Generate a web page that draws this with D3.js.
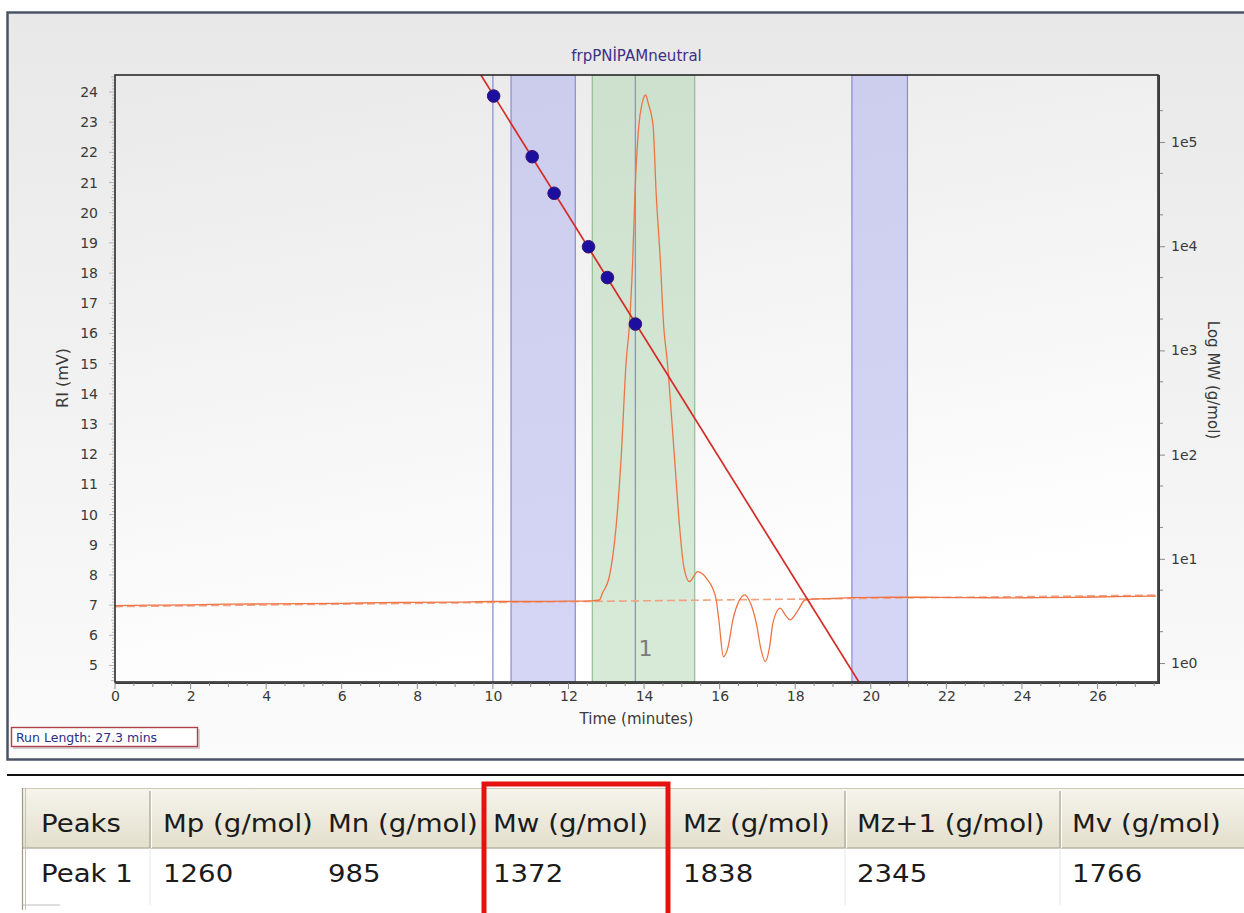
<!DOCTYPE html>
<html>
<head>
<meta charset="utf-8">
<script src="https://cdn.jsdelivr.net/npm/d3@7"></script>
<style>
  html, body { margin: 0; padding: 0; background: #ffffff; }
  svg { display: block; font-family: "DejaVu Sans", Verdana, sans-serif; }
</style>
</head>
<body>
<svg id="chart" width="1244" height="913"></svg>
<script>
// RI detector trace: retention time (min) and signal (mV)
const traceTime = [0, 1, 2, 3, 4, 5, 6, 7, 8, 9, 10, 11, 12, 12.6, 12.82, 12.9, 13.08, 13.26, 13.39,
  13.53, 13.61, 13.7, 13.76, 13.86, 13.95, 14.04, 14.11, 14.24, 14.32, 14.43, 14.52, 14.61, 14.81,
  14.94, 15.05, 15.2, 15.42, 15.56, 15.68, 15.8, 15.91, 15.98, 16.1, 16.22, 16.35, 16.5, 16.66,
  16.82, 16.97, 17.1, 17.21, 17.32, 17.41, 17.6, 17.75, 17.86, 18.06, 18.26, 18.5, 19, 19.5, 20.5,
  21.5, 22.5, 23.5, 24.5, 25.5, 26.5, 27.55];
const traceMV = [6.98, 7.0, 7.01, 7.03, 7.04, 7.05, 7.06, 7.08, 7.09, 7.1, 7.12, 7.12, 7.13, 7.14, 7.17,
  7.4, 7.94, 9.6, 11.81, 15.13, 16.23, 18.44, 20.65, 22.86, 23.63, 23.9, 23.63, 22.86, 20.65, 18.44,
  16.23, 15.13, 11.81, 9.6, 8.28, 7.78, 8.11, 8.02, 7.84, 7.6, 7.17, 6.5, 5.29, 5.6, 6.51, 7.1, 7.34,
  7.05, 6.4, 5.5, 5.13, 5.6, 6.41, 6.9, 6.65, 6.51, 6.8, 7.17, 7.2, 7.22, 7.25, 7.26, 7.26, 7.25,
  7.24, 7.25, 7.26, 7.28, 7.3];

// Baseline drawn under the trace
const baselineTime = [0, 27.55];
const baselineMV = [6.95, 7.33];

// Calibration standards: retention time (min) and molecular weight (g/mol)
const calTime = [10.02, 11.04, 11.62, 12.53, 13.03, 13.77];
const calMW = [276000, 72300, 32200, 9880, 5000, 1790];

// Integration regions and limits (min)
const limitBands = [[10.48, 12.18], [19.5, 20.97]];
const peakBand = [12.63, 15.34];
const limitLines = [10.0, 13.77];
const peakName = "1";
const peakTime = 14.04;

// Axis settings
const timeDomain = [0, 27.6];
const riDomain = [4.453, 24.563];
const mwDomain = [Math.pow(10, -0.182), Math.pow(10, 5.643)];
const timeTicks = [0, 2, 4, 6, 8, 10, 12, 14, 16, 18, 20, 22, 24, 26];
const riTicks = [5, 6, 7, 8, 9, 10, 11, 12, 13, 14, 15, 16, 17, 18, 19, 20, 21, 22, 23, 24];
const mwTicks = [1, 10, 100, 1000, 10000, 100000];
const mwTickLabels = ["1e0", "1e1", "1e2", "1e3", "1e4", "1e5"];

const chartTitle = "frpPNİPAMneutral";
const runLength = "Run Length: 27.3 mins";

// Results table
const tableHeaders = ["Peaks", "Mp (g/mol)", "Mn (g/mol)", "Mw (g/mol)", "Mz (g/mol)", "Mz+1 (g/mol)", "Mv (g/mol)"];
const tableRow = ["Peak 1", "1260", "985", "1372", "1838", "2345", "1766"];
const highlightColumn = 3;

// ---------------------------------------------------------------
const svg = d3.select("#chart");
const W = 1244, H = 913;
const plot = { left: 115, right: 1158, top: 75, bottom: 682 };

const x = d3.scaleLinear().domain(timeDomain).range([plot.left, plot.right]);
const yRI = d3.scaleLinear().domain(riDomain).range([plot.bottom, plot.top]);
const yMW = d3.scaleLog().domain(mwDomain).range([plot.bottom, plot.top]);

const defs = svg.append("defs");
const panelGrad = defs.append("linearGradient").attr("id", "panelGrad")
  .attr("x1", 0).attr("y1", 0).attr("x2", 0).attr("y2", 1);
panelGrad.append("stop").attr("offset", "0%").attr("stop-color", "#e8e8e8");
panelGrad.append("stop").attr("offset", "100%").attr("stop-color", "#fbfbfb");

const plotGrad = defs.append("linearGradient").attr("id", "plotGrad")
  .attr("x1", 0).attr("y1", 0).attr("x2", 0.3).attr("y2", 1);
plotGrad.append("stop").attr("offset", "0%").attr("stop-color", "#e9e9e9");
plotGrad.append("stop").attr("offset", "100%").attr("stop-color", "#ffffff");

const headGrad = defs.append("linearGradient").attr("id", "headGrad")
  .attr("x1", 0).attr("y1", 0).attr("x2", 0).attr("y2", 1);
headGrad.append("stop").attr("offset", "0%").attr("stop-color", "#f6f4ec");
headGrad.append("stop").attr("offset", "100%").attr("stop-color", "#e3dfcd");

defs.append("clipPath").attr("id", "plotClip").append("rect")
  .attr("x", plot.left).attr("y", plot.top)
  .attr("width", plot.right - plot.left).attr("height", plot.bottom - plot.top);

// Chart panel
svg.append("rect").attr("x", 7.5).attr("y", 12.5).attr("width", 1250).attr("height", 747)
  .attr("fill", "url(#panelGrad)").attr("stroke", "#4b5366").attr("stroke-width", 2.5);

// Plot area background
svg.append("rect").attr("x", plot.left).attr("y", plot.top)
  .attr("width", plot.right - plot.left).attr("height", plot.bottom - plot.top)
  .attr("fill", "url(#plotGrad)");

const inner = svg.append("g").attr("clip-path", "url(#plotClip)");

// Regions
inner.selectAll("rect.limit").data(limitBands).join("rect").attr("class", "limit")
  .attr("x", d => x(d[0])).attr("y", plot.top)
  .attr("width", d => x(d[1]) - x(d[0])).attr("height", plot.bottom - plot.top)
  .attr("fill", "rgba(178,178,238,0.55)").attr("stroke", "#8a8ad2").attr("stroke-width", 1.2);

inner.append("rect")
  .attr("x", x(peakBand[0])).attr("y", plot.top)
  .attr("width", x(peakBand[1]) - x(peakBand[0])).attr("height", plot.bottom - plot.top)
  .attr("fill", "rgba(176,212,176,0.5)").attr("stroke", "#8fbf8f").attr("stroke-width", 1.2);

inner.selectAll("line.lim").data(limitLines).join("line").attr("class", "lim")
  .attr("x1", d => x(d)).attr("x2", d => x(d))
  .attr("y1", plot.top).attr("y2", plot.bottom)
  .attr("stroke", "#8a90d6").attr("stroke-width", 1.3);

// Baseline (dashed)
inner.append("line")
  .attr("x1", x(baselineTime[0])).attr("y1", yRI(baselineMV[0]))
  .attr("x2", x(baselineTime[1])).attr("y2", yRI(baselineMV[1]))
  .attr("stroke", "#f2a283").attr("stroke-width", 1.6).attr("stroke-dasharray", "8,4");

// Trace
const traceData = traceTime.map((t, i) => [t, traceMV[i]]);
inner.append("path").datum(traceData)
  .attr("d", d3.line().x(d => x(d[0])).y(d => yRI(d[1])).curve(d3.curveMonotoneX))
  .attr("fill", "none").attr("stroke", "#ef7444").attr("stroke-width", 1.3);

// Peak label
inner.append("text").attr("x", x(peakTime)).attr("y", 656)
  .attr("text-anchor", "middle").attr("font-size", 22).attr("fill", "#7a7a7a")
  .text(peakName);

// Calibration fit: least squares of log10(MW) on time
const logs = calMW.map(Math.log10);
const mt = d3.mean(calTime), ml = d3.mean(logs);
const slope = d3.sum(calTime, (t, i) => (t - mt) * (logs[i] - ml)) / d3.sum(calTime, t => (t - mt) ** 2);
const intercept = ml - slope * mt;
const fitMW = t => Math.pow(10, intercept + slope * t);
inner.append("line")
  .attr("x1", x(timeDomain[0])).attr("y1", yMW(fitMW(timeDomain[0])))
  .attr("x2", x(timeDomain[1])).attr("y2", yMW(fitMW(timeDomain[1])))
  .attr("stroke", "#d42b26").attr("stroke-width", 1.7);

inner.selectAll("circle.cal").data(calTime).join("circle").attr("class", "cal")
  .attr("cx", d => x(d)).attr("cy", (d, i) => yMW(calMW[i])).attr("r", 6.3)
  .attr("fill", "#1c0e9e").attr("stroke", "#3c1670").attr("stroke-width", 1);

// Plot frame
svg.append("rect").attr("x", plot.left).attr("y", plot.top)
  .attr("width", plot.right - plot.left).attr("height", plot.bottom - plot.top)
  .attr("fill", "none").attr("stroke", "#2a2a2a").attr("stroke-width", 1.6);
svg.append("path")
  .attr("d", `M${plot.right + 1.2},${plot.top} V${plot.bottom + 1.2} H${plot.left}`)
  .attr("fill", "none").attr("stroke", "#3a3a3a").attr("stroke-width", 1.6);

// Axes
const tickColor = "#8a8a8a", labelColor = "#3a3a3a";

// Bottom axis: minor ticks every 0.5, labels every 2
const gx = svg.append("g").attr("transform", `translate(0,${plot.bottom + 1})`);
gx.selectAll("line.minor").data(d3.range(0, timeDomain[1], 0.5)).join("line")
  .attr("x1", d => x(d)).attr("x2", d => x(d)).attr("y1", 0)
  .attr("y2", d => (d % 2 === 0 ? 6 : (d % 1 === 0 ? 4 : 3)))
  .attr("stroke", tickColor).attr("stroke-width", 1);
gx.call(d3.axisBottom(x).tickValues(timeTicks).tickSize(0).tickPadding(8).tickFormat(d3.format("d")))
  .call(g => g.select(".domain").remove())
  .call(g => g.selectAll("text").attr("font-size", 14).attr("fill", labelColor)
    .attr("font-family", "DejaVu Sans, Verdana, sans-serif"));

// Left axis: ruler ticks every 0.1
const gy = svg.append("g").attr("transform", `translate(${plot.left - 1},0)`);
gy.selectAll("line.minor").data(d3.range(Math.ceil(riDomain[0] * 10), Math.floor(riDomain[1] * 10) + 1)).join("line")
  .attr("y1", d => yRI(d / 10)).attr("y2", d => yRI(d / 10)).attr("x1", 0)
  .attr("x2", d => (d % 10 === 0 ? -5 : (d % 5 === 0 ? -3 : -2)))
  .attr("stroke", "#a8a8a8").attr("stroke-width", 0.8);
gy.call(d3.axisLeft(yRI).tickValues(riTicks).tickSize(0).tickPadding(16).tickFormat(d3.format("d")))
  .call(g => g.select(".domain").remove())
  .call(g => g.selectAll("text").attr("font-size", 14).attr("fill", labelColor)
    .attr("font-family", "DejaVu Sans, Verdana, sans-serif"));

// Right axis: log molecular weight
const gr = svg.append("g").attr("transform", `translate(${plot.right + 2},0)`);
const mwMinor = [];
mwTicks.forEach(m => [2, 5].forEach(k => { const v = m * k; if (v < mwDomain[1]) mwMinor.push(v); }));
gr.selectAll("line.minor").data(mwMinor).join("line")
  .attr("y1", d => yMW(d)).attr("y2", d => yMW(d)).attr("x1", 0).attr("x2", 3)
  .attr("stroke", tickColor).attr("stroke-width", 1);
gr.call(d3.axisRight(yMW).tickValues(mwTicks).tickSize(5).tickPadding(6)
    .tickFormat((d, i) => mwTickLabels[i]))
  .call(g => g.select(".domain").remove())
  .call(g => g.selectAll("line").attr("stroke", tickColor))
  .call(g => g.selectAll("text").attr("font-size", 14).attr("fill", labelColor)
    .attr("font-family", "DejaVu Sans, Verdana, sans-serif"));

// Titles
svg.append("text").attr("x", (plot.left + plot.right) / 2).attr("y", 61)
  .attr("text-anchor", "middle").attr("font-size", 15).attr("fill", "#3f2f86")
  .text(chartTitle);
svg.append("text").attr("x", (plot.left + plot.right) / 2).attr("y", 724)
  .attr("text-anchor", "middle").attr("font-size", 15).attr("fill", labelColor)
  .text("Time (minutes)");
svg.append("text").attr("transform", `translate(68,378) rotate(-90)`)
  .attr("text-anchor", "middle").attr("font-size", 16).attr("fill", labelColor)
  .text("RI (mV)");
svg.append("text").attr("transform", `translate(1208,380) rotate(90)`)
  .attr("text-anchor", "middle").attr("font-size", 15).attr("fill", labelColor)
  .text("Log MW (g/mol)");

// Run length box
svg.append("rect").attr("x", 13).attr("y", 729).attr("width", 187).attr("height", 20)
  .attr("fill", "#a9a9a9").attr("opacity", 0.5);
svg.append("rect").attr("x", 11.5).attr("y", 727.5).attr("width", 186).attr("height", 19)
  .attr("fill", "#ffffff").attr("stroke", "#b2404c").attr("stroke-width", 1.4);
svg.append("text").attr("x", 16).attr("y", 741.5).attr("font-size", 12.5).attr("fill", "#2b2e86")
  .text(runLength);

// ---------------------------------------------------------------
// Results table
svg.append("line").attr("x1", 7).attr("x2", W).attr("y1", 775).attr("y2", 775)
  .attr("stroke", "#111").attr("stroke-width", 2);

const colX = [22, 150, 316, 484, 668, 845, 1060, W];
const textX = [41, 163, 328, 493, 683, 857, 1072];
const headTop = 788, headBottom = 848, rowBottom = 905;

svg.append("rect").attr("x", colX[0]).attr("y", headTop).attr("width", W - colX[0])
  .attr("height", headBottom - headTop).attr("fill", "url(#headGrad)");
svg.append("line").attr("x1", colX[0]).attr("x2", W).attr("y1", headTop + 0.5).attr("y2", headTop + 0.5)
  .attr("stroke", "#cfcab8");
svg.append("line").attr("x1", colX[0]).attr("x2", W).attr("y1", headBottom).attr("y2", headBottom)
  .attr("stroke", "#b9b4a0").attr("stroke-width", 1.5);
svg.append("line").attr("x1", colX[0]).attr("x2", 60).attr("y1", rowBottom).attr("y2", rowBottom)
  .attr("stroke", "#bdbdbd");

// Column separators
[1, 4, 5, 6].forEach(i => {
  svg.append("line").attr("x1", colX[i]).attr("x2", colX[i]).attr("y1", headTop + 3).attr("y2", headBottom)
    .attr("stroke", "#a9a48f").attr("stroke-width", 1.2);
  svg.append("line").attr("x1", colX[i] + 1.5).attr("x2", colX[i] + 1.5).attr("y1", headTop + 3).attr("y2", headBottom)
    .attr("stroke", "#ffffff").attr("stroke-width", 1);
  svg.append("line").attr("x1", colX[i]).attr("x2", colX[i]).attr("y1", headBottom).attr("y2", rowBottom)
    .attr("stroke", "#e6e6e6").attr("stroke-width", 1);
});
// Row header edge
svg.append("line").attr("x1", 22.5).attr("x2", 22.5).attr("y1", headTop).attr("y2", 910)
  .attr("stroke", "#9e9886").attr("stroke-width", 1.2);
svg.append("line").attr("x1", 25.5).attr("x2", 25.5).attr("y1", headTop).attr("y2", 910)
  .attr("stroke", "#c8c3b0").attr("stroke-width", 1);

const tableFont = 24, tableStretch = 1.15;
const addCell = (txt, cx, by) => svg.append("text")
  .attr("transform", `translate(${cx},${by}) scale(${tableStretch},1)`)
  .attr("font-size", tableFont).attr("fill", "#1b1b1b").text(txt);
tableHeaders.forEach((h, i) => addCell(h, textX[i], 832));
tableRow.forEach((v, i) => addCell(v, textX[i], 882));

// Highlighted column
svg.append("rect").attr("x", colX[highlightColumn]).attr("y", 784)
  .attr("width", colX[highlightColumn + 1] - colX[highlightColumn]).attr("height", 140)
  .attr("fill", "none").attr("stroke", "#e5120f").attr("stroke-width", 5);
</script>
</body>
</html>
